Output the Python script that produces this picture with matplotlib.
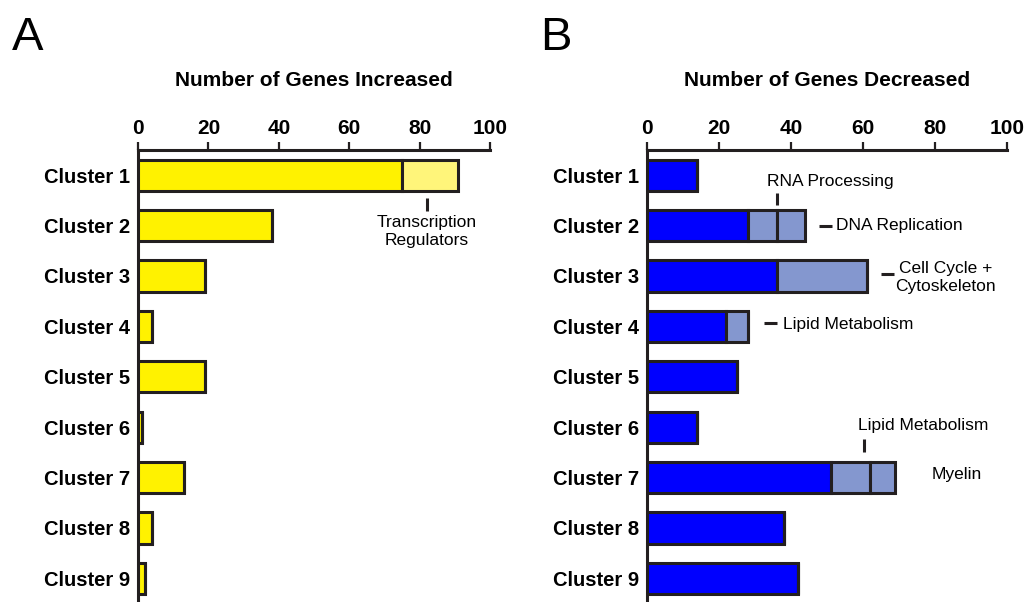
import matplotlib

matplotlib.use("Agg")
import matplotlib.pyplot as plt
import numpy as np

plt.rcParams["font.family"] = ["Liberation Sans", "DejaVu Sans"]

clusters = [f"Cluster {i}" for i in range(1, 10)]

# Panel A: genes increased (base + transcription regulators)
inc_base = [75, 38, 19, 4, 19, 1, 13, 4, 2]
inc_extra = [16, 0, 0, 0, 0, 0, 0, 0, 0]

# Panel B: genes decreased (base + annotated segments)
dec_base = [14, 28, 36, 22, 25, 14, 51, 38, 42]
dec_seg1 = [0, 8, 25, 6, 0, 0, 11, 0, 0]
dec_seg2 = [0, 8, 0, 0, 0, 0, 7, 0, 0]

EDGE = "#231f20"
LW = 2.2
H = 0.62


def _style(ax, title):
    y = np.arange(len(clusters))
    ax.set_xlim(0, 100)
    ax.set_ylim(8.47, -0.5)
    ax.set_yticks(y)
    ax.set_yticklabels(clusters, fontsize=14.5, fontweight="bold")
    ax.set_xticks(np.arange(0, 101, 20))
    ax.xaxis.tick_top()
    ax.tick_params(axis="x", direction="out", length=6, width=1.6, color=EDGE,
                   pad=3, labelsize=15)
    for lab in ax.get_xticklabels():
        lab.set_fontweight("bold")
    ax.tick_params(axis="y", length=0, pad=6)
    for s in ("right", "bottom"):
        ax.spines[s].set_visible(False)
    for s in ("top", "left"):
        ax.spines[s].set_linewidth(LW)
        ax.spines[s].set_color(EDGE)
    ax.set_title(title, fontsize=15, fontweight="bold", pad=46)


def _stack(ax, segments, colors):
    y = np.arange(len(clusters))
    left = np.zeros(len(clusters))
    for vals, col in zip(segments, colors):
        vals = np.asarray(vals, dtype=float)
        ax.barh(y, vals, left=left, height=H, color=col, edgecolor=EDGE,
                linewidth=LW, zorder=3)
        left += vals


fig = plt.figure(figsize=(10.24, 6.02), dpi=100)
axA = fig.add_axes([138 / 1024, 0.0, 352 / 1024, 1 - 150 / 602])
axB = fig.add_axes([647 / 1024, 0.0, 360 / 1024, 1 - 150 / 602])

_stack(axA, [inc_base, inc_extra], ["#fff200", "#fff57a"])
_style(axA, "Number of Genes Increased")

_stack(axB, [dec_base, dec_seg1, dec_seg2], ["#0000ff", "#8497cf", "#8497cf"])
_style(axB, "Number of Genes Decreased")

# annotations, panel A
ann = dict(fontsize=12.5, color="black", clip_on=False)
mk = dict(color=EDGE, linewidth=2.2, clip_on=False, solid_capstyle="butt")
axA.plot([82, 82], [0.46, 0.72], **mk)
axA.text(82, 1.12, "Transcription\nRegulators", ha="center", va="center",
         linespacing=1.3, **ann)

# annotations, panel B
axB.plot([36, 36], [0.35, 0.6], **mk)
axB.text(33.3, 0.13, "RNA Processing", ha="left", va="center", **ann)
axB.plot([47.7, 51.4], [1.0, 1.0], **mk)
axB.text(52.6, 1.0, "DNA Replication", ha="left", va="center", **ann)
axB.plot([65, 68.7], [1.96, 1.96], **mk)
axB.text(69, 2.03, "Cell Cycle +\nCytoskeleton", ha="left", va="center",
         multialignment="center", linespacing=1.25, **ann)
axB.plot([32.4, 36.1], [2.94, 2.94], **mk)
axB.text(37.8, 2.96, "Lipid Metabolism", ha="left", va="center", **ann)
axB.plot([60.2, 60.2], [5.24, 5.49], **mk)
axB.text(58.5, 4.96, "Lipid Metabolism", ha="left", va="center", **ann)
axB.text(79.2, 5.93, "Myelin", ha="left", va="center", **ann)

fig.text(12 / 1024, 1 - 50 / 602, "A", fontsize=34, ha="left", va="baseline")
fig.text(540 / 1024, 1 - 50 / 602, "B", fontsize=34, ha="left", va="baseline")

fig.savefig("out.png", dpi=100)
